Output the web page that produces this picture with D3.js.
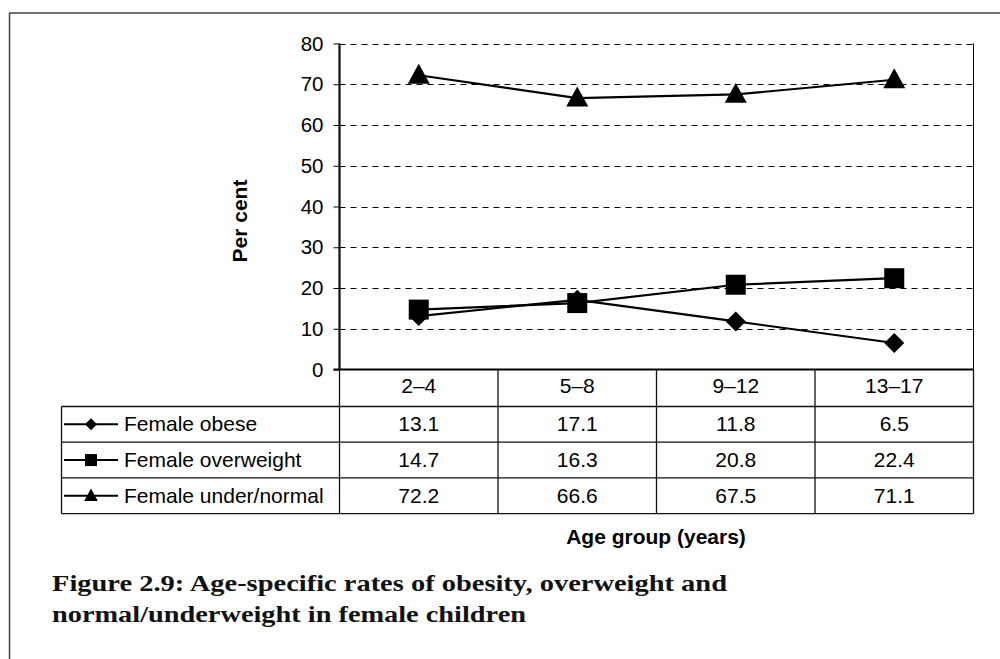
<!DOCTYPE html>
<html><head><meta charset="utf-8">
<script src="https://cdn.jsdelivr.net/npm/d3@7"></script>
<style>body{margin:0;background:#fff}svg{display:block}</style>
</head><body>
<script>
const categories = ["2–4","5–8","9–12","13–17"];
const seriesNames = ["Female obese","Female overweight","Female under/normal"];
const obese = [13.1,17.1,11.8,6.5];
const overweight = [14.7,16.3,20.8,22.4];
const underNormal = [72.2,66.6,67.5,71.1];
const yTicks = [0,10,20,30,40,50,60,70,80];
const markers = ["diamond","square","triangle"];
const seriesValues = [obese, overweight, underNormal];

const W=1000,H=659;
const svg=d3.select("body").append("svg").attr("width",W).attr("height",H);
const font="'Liberation Sans',Arial,sans-serif";
const FS=21;

// outer frame (top and left)
svg.append("line").attr("x1",9).attr("x2",W).attr("y1",13).attr("y2",13).attr("stroke","#444").attr("stroke-width",1.5);
svg.append("line").attr("x1",9.5).attr("x2",9.5).attr("y1",13).attr("y2",H).attr("stroke","#444").attr("stroke-width",1.5);

const L=339.5,R=973.5,T=43.5,B=369.5;
const x=d3.scaleBand().domain(categories).range([L,R]);
const y=d3.scaleLinear().domain([0,80]).range([B,T]);

// gridlines
svg.append("g").selectAll("line").data(yTicks.filter(d=>d>0)).join("line")
  .attr("x1",L).attr("x2",R).attr("y1",d=>Math.round(y(d))+0.5).attr("y2",d=>Math.round(y(d))+0.5)
  .attr("stroke","#000").attr("stroke-width",1).attr("stroke-dasharray","6,5");
// plot border right
svg.append("line").attr("x1",R).attr("x2",R).attr("y1",T).attr("y2",B).attr("stroke","#000").attr("stroke-width",1);

// y axis
const yAxis=d3.axisLeft(y).tickValues(yTicks).tickSize(6).tickPadding(10);
const ga=svg.append("g").attr("transform",`translate(${L},0)`).call(yAxis);
ga.select(".domain").attr("stroke","#000").attr("stroke-width",2).attr("d",`M0,${T}V${B}`);
ga.selectAll(".tick line").attr("stroke","#000").attr("stroke-width",1);
ga.selectAll(".tick text").attr("font-family",font).attr("font-size",FS-0.5).attr("fill","#000");

svg.append("text").attr("transform",`translate(247,221) rotate(-90)`).attr("text-anchor","middle")
  .attr("font-family",font).attr("font-weight","bold").attr("font-size",FS).text("Per cent");

// x baseline
svg.append("line").attr("x1",L-6).attr("x2",R).attr("y1",B).attr("y2",B).attr("stroke","#000").attr("stroke-width",2);

// table
const tableTop=406.5, rowH=35.7, tableLeft=61.5;
const rowsY=[0,1,2,3].map(i=>tableTop+i*rowH);
const tg=svg.append("g");
rowsY.forEach(yy=>{
  tg.append("line").attr("x1",tableLeft).attr("x2",R).attr("y1",yy).attr("y2",yy).attr("stroke","#111").attr("stroke-width",1.3);
});
const colEdges=[L, ...categories.map(c=>x(c)+x.bandwidth())];
colEdges.forEach((cx,i)=>{
  tg.append("line").attr("x1",cx).attr("x2",cx).attr("y1",i===0?T:B).attr("y2",rowsY[3]).attr("stroke","#111").attr("stroke-width",1.3);
});
tg.append("line").attr("x1",tableLeft).attr("x2",tableLeft).attr("y1",tableTop).attr("y2",rowsY[3]).attr("stroke","#111").attr("stroke-width",1.3);
tg.selectAll("text.cat").data(categories).join("text").attr("class","cat")
  .attr("x",d=>x(d)+x.bandwidth()/2).attr("y",393).attr("text-anchor","middle")
  .attr("font-family",font).attr("font-size",FS).text(d=>d);

function drawMarker(g,type,cx,cy,s){
  if(type==="diamond"){
    g.append("path").attr("d",`M${cx},${cy-s}L${cx+s},${cy}L${cx},${cy+s}L${cx-s},${cy}Z`).attr("fill","#000");
  } else if(type==="square"){
    g.append("rect").attr("x",cx-s).attr("y",cy-s).attr("width",2*s).attr("height",2*s).attr("fill","#000");
  } else {
    g.append("path").attr("d",`M${cx},${cy-s*1.1}L${cx+s*1.05},${cy+s*0.8}L${cx-s*1.05},${cy+s*0.8}Z`).attr("fill","#000");
  }
}

seriesNames.forEach((name,i)=>{
  const cy=rowsY[i]+rowH/2;
  tg.append("line").attr("x1",64).attr("x2",118).attr("y1",cy).attr("y2",cy).attr("stroke","#000").attr("stroke-width",2);
  drawMarker(tg,markers[i],91,cy,i===0?6:i===1?6:6.5);
  tg.append("text").attr("x",124).attr("y",cy+7).attr("font-family",font).attr("font-size",FS).text(name);
  seriesValues[i].forEach((v,j)=>{
    tg.append("text").attr("x",x(categories[j])+x.bandwidth()/2).attr("y",cy+7).attr("text-anchor","middle")
      .attr("font-family",font).attr("font-size",FS).text(v.toFixed(1));
  });
});

const line=d3.line().x((d,j)=>x(categories[j])+x.bandwidth()/2).y(d=>y(d));
const sizes=[10,10,10.5];
seriesValues.forEach((vals,i)=>{
  svg.append("path").datum(vals).attr("d",line).attr("fill","none").attr("stroke","#000").attr("stroke-width",2.2);
  const mg=svg.append("g");
  vals.forEach((v,j)=>drawMarker(mg,markers[i],x(categories[j])+x.bandwidth()/2,y(v),sizes[i]));
});

svg.append("text").attr("x",656).attr("y",544).attr("text-anchor","middle")
  .attr("font-family",font).attr("font-weight","bold").attr("font-size",FS).text("Age group (years)");

const cap=svg.append("text").attr("font-family","'Liberation Serif','DejaVu Serif',serif").attr("font-weight","bold").attr("font-size",24).attr("fill","#111");
cap.append("tspan").attr("x",52).attr("y",591).attr("textLength",675).attr("lengthAdjust","spacingAndGlyphs").text("Figure 2.9: Age-specific rates of obesity, overweight and");
cap.append("tspan").attr("x",52).attr("y",622).attr("textLength",474).attr("lengthAdjust","spacingAndGlyphs").text("normal/underweight in female children");
</script>
</body></html>
